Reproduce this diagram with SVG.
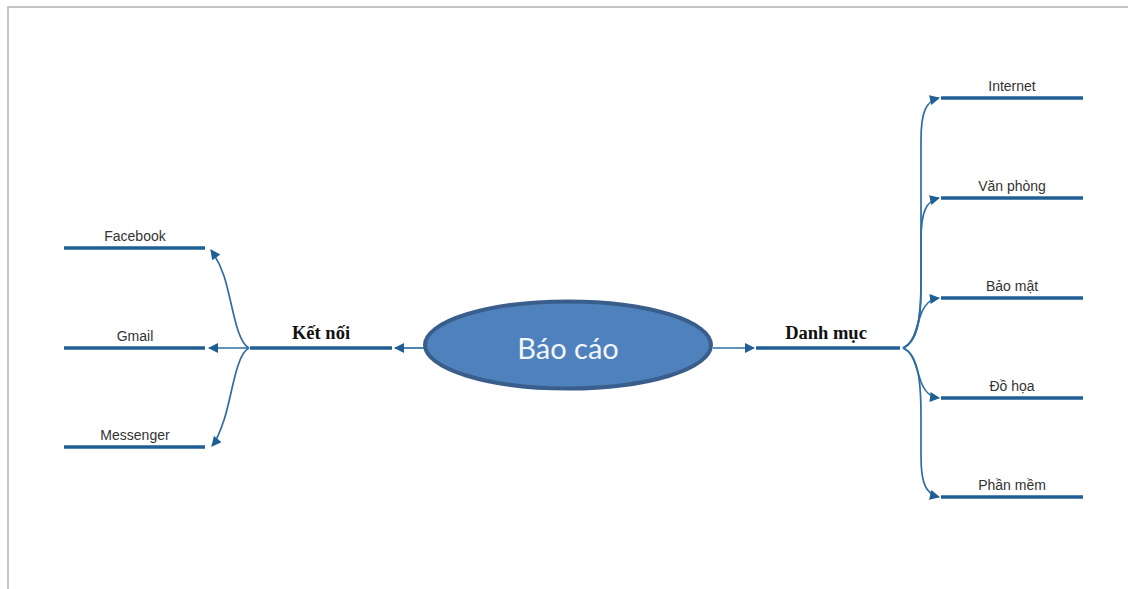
<svg xmlns="http://www.w3.org/2000/svg" width="1128" height="589" viewBox="0 0 1128 589">
<defs>
<style>
.frame{fill:none;stroke:#c4c4c4;stroke-width:2}
.bar{stroke:#1f5f93;stroke-width:3.6;fill:none}
.link{stroke:#2e6da4;stroke-width:1.7;fill:none}
.lbl{font-family:"Liberation Sans",Arial,sans-serif;font-size:14px;fill:#333;text-anchor:middle}
.cat{font-family:"Liberation Serif","Times New Roman",serif;font-size:18.5px;font-weight:bold;fill:#111;text-anchor:middle}
.main{font-family:Lato,"Open Sans",sans-serif;font-size:29px;fill:#f2f6fb;text-anchor:middle}
</style>
<marker id="ah" viewBox="0 0 10 10" refX="9" refY="5" markerWidth="11" markerHeight="10" markerUnits="userSpaceOnUse" orient="auto">
<path d="M0,0 L10,5 L0,10 Z" fill="#1f5f93"/>
</marker>
</defs>
<path class="frame" d="M8,589 V7 H1128"/>
<g id="connectors">
<path class="link" d="M425,348 H395" marker-end="url(#ah)"/>
<path class="link" d="M713,348 H754" marker-end="url(#ah)"/>
<path class="link" d="M249,348 C236,342 232,300 224,276 C220,264 216,257 211,250" marker-end="url(#ah)"/>
<path class="link" d="M249,348 H209" marker-end="url(#ah)"/>
<path class="link" d="M249,348 C236,354 232,396 224,420 C220,432 217,440 212,446" marker-end="url(#ah)"/>
<path class="link" d="M903,348 C917,342 921,320 921,290 V140 C921,112 926,101 939,98" marker-end="url(#ah)"/>
<path class="link" d="M903,348 C917,342 921,320 921,280 V240 C921,212 926,201 939,198" marker-end="url(#ah)"/>
<path class="link" d="M903,348 C914,344 916,328 921,314 C925,304 930,299 939,298" marker-end="url(#ah)"/>
<path class="link" d="M903,348 C914,352 916,368 921,382 C925,392 930,397 939,398" marker-end="url(#ah)"/>
<path class="link" d="M903,348 C917,354 921,376 921,416 V456 C921,484 926,494 939,497" marker-end="url(#ah)"/>
</g>
<g id="bao-cao">
<ellipse cx="568" cy="345" rx="143" ry="43.5" fill="#4f81bd" stroke="#3a5e8b" stroke-width="4"/>
<text class="main" x="568" y="359">Báo cáo</text>
</g>
<g id="ket-noi">
<path class="bar" d="M250,348 H392"/>
<text class="cat" x="321" y="339">Kết nối</text>
</g>
<g id="danh-muc">
<path class="bar" d="M756,348 H900"/>
<text class="cat" x="826" y="339">Danh mục</text>
</g>
<g id="facebook">
<path class="bar" d="M64,248 H205"/>
<text class="lbl" x="135" y="241">Facebook</text>
</g>
<g id="gmail">
<path class="bar" d="M64,348 H205"/>
<text class="lbl" x="135" y="341">Gmail</text>
</g>
<g id="messenger">
<path class="bar" d="M64,447 H205"/>
<text class="lbl" x="135" y="440">Messenger</text>
</g>
<g id="internet">
<path class="bar" d="M941,98 H1083"/>
<text class="lbl" x="1012" y="91">Internet</text>
</g>
<g id="van-phong">
<path class="bar" d="M941,198 H1083"/>
<text class="lbl" x="1012" y="191">Văn phòng</text>
</g>
<g id="bao-mat">
<path class="bar" d="M941,298 H1083"/>
<text class="lbl" x="1012" y="291">Bảo mật</text>
</g>
<g id="do-hoa">
<path class="bar" d="M941,398 H1083"/>
<text class="lbl" x="1012" y="391">Đồ họa</text>
</g>
<g id="phan-mem">
<path class="bar" d="M941,497 H1083"/>
<text class="lbl" x="1012" y="490">Phần mềm</text>
</g>
</svg>
